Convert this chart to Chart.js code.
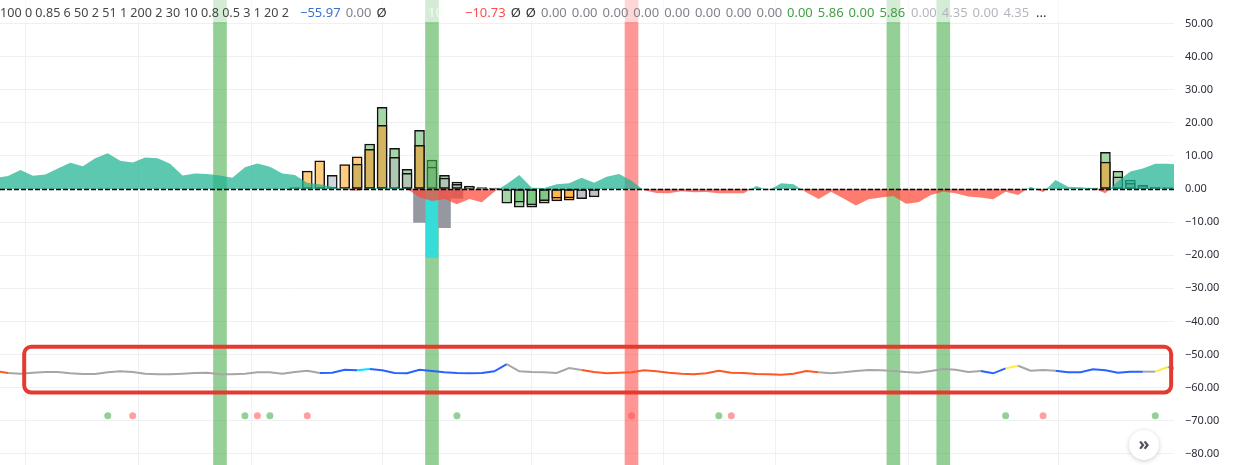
<!DOCTYPE html>
<html>
<head>
<meta charset="utf-8">
<script src="https://cdn.jsdelivr.net/npm/chart.js@4.4.1/dist/chart.umd.min.js"></script>
<style>
  html, body { margin:0; padding:0; background:#fff; }
  #wrap { position:relative; width:1235px; height:465px; overflow:hidden; }
  #btnScroll {
    position:absolute; left:1129px; top:430px; width:30px; height:30px; border-radius:50%;
    background:#fff; box-shadow:0 1px 5px rgba(0,0,0,0.2);
    font:bold 18px "Noto Sans", sans-serif; color:#50535e; text-align:center; line-height:27px;
  }
</style>
</head>
<body>
<div id="wrap">
  <canvas id="chart" width="1235" height="465"></canvas>
  <div id="btnScroll">»</div>
</div>
<script>
(function(){
  // --- x positions are bar indexes, 0 = first bar on the left
  var xMin = -0.64, xMax = 93.5;
  var gridMarks = [5.95, 15, 24, 36, 48, 57.05, 66.1, 78.25, 90.2];
  var yMin = -83.4, yMax = 57.1;
  var yTickFrom = -80, yTickTo = 50, yStep = 10;

  // oscillator area (starts one bar before the first bar)
  var areaStart = -1;
  var areaVals = [3.4,
    3.9, 5.7, 4.0, 4.4, 6.2, 7.9, 6.9, 9.3, 10.8, 8.5,
    8.0, 9.5, 9.3, 7.6, 4.1, 4.7, 4.5, 4.1, 3.4, 6.6,
    7.7, 6.7, 4.7, 4.2, 1.9, 1.4, 0.7, -0.2, -0.5, 0.2,
    0.2, 0.6, 0.0, -2.5, -3.6, -3.0, -4.6, -3.0, -4.0, -0.8,
    1.5, 4.2, 0.4, 0.3, 1.4, 1.7, 3.4, 1.9, 3.7, 4.5,
    2.5, -0.4, -1.2, -1.3, -0.7, -1.0, -0.9, -1.3, -1.3, -1.3,
    0.9, -0.4, 1.7, 1.4, -1.0, -3.0, -0.8, -2.9, -5.0, -3.1,
    -2.6, -2.1, -4.5, -4.0, -1.8, -0.8, -1.3, -2.3, -2.6, -3.1,
    -0.8, -1.8, 0.7, -1.0, 2.7, 0.7, 0.5, 0.2, -1.3, 2.3,
    5.3, 6.2, 7.6, 7.6, 7.3];

  // bordered histogram bars: outer box and inner box
  var outerIdx  = [23, 24, 25, 26, 27, 28, 29, 30, 31, 32, 33, 34, 35, 36, 37, 38, 39, 40, 41, 42, 43, 44, 45, 46, 47, 87, 88, 89, 90, 91, 92, 93];
  var outerVals = [0.4, 5.4, 8.5, 4.1, 7.4, 9.7, 13.6, 24.7, 12.3, 5.9, 17.7, 8.7, 4.1, 2.1, 0.9, 0.4, 0.3, -4.3, -5.5, -5.5, -4.3, -3.6, -3.4, -2.9, -2.4, 0.3, 11.1, 5.4, 2.7, 1.2, 0.5, 0.4];
  var outerTone = ['k','o','o','s','o','o','l','l','l','l','l','l','l','l','l','k','k','l','l','l','l','a','a','m','m','k','l','l','l','l','k','k'];

  var innerIdx  = [28, 29, 30, 31, 32, 33, 34, 35, 36, 37, 41, 42, 43, 44, 45, 88, 89, 90, 91];
  var innerVals = [7.5, 12.0, 19.2, 9.6, 4.7, 13.2, 6.6, 3.3, 1.4, 0.5, -4.0, -4.8, -3.5, -2.8, -2.7, 8.1, 3.7, 1.7, 0.7];
  var innerTone = ['d','d','d','q','q','d','q','q','q','q','g','g','g','a','a','d','q','q','q'];

  // plain down bars
  var dropIdx  = [33, 34, 35, 36];
  var dropVals = [-10.1, -20.7, -11.7, -2.8];
  var dropTone = ['p','c','p','p'];

  // background highlight columns
  var greenBands = [17, 34, 71, 75];
  var redBands   = [50];

  // lower line (starts one bar before the first bar)
  var lineStart = -1;
  var lineVals = [-55.0,
    -55.6, -55.8, -55.5, -55.3, -55.3, -55.7, -55.9, -55.9, -55.4, -55.1,
    -55.3, -55.8, -56.0, -56.0, -55.8, -55.6, -55.5, -56.0, -56.0, -55.8,
    -55.4, -55.4, -55.8, -55.3, -54.9, -55.6, -55.5, -54.6, -54.8, -54.4,
    -54.8, -55.6, -55.7, -54.6, -55.0, -55.4, -55.6, -55.7, -55.6, -55.1,
    -52.9, -55.1, -55.3, -55.4, -55.6, -54.1, -54.7, -55.3, -55.7, -55.5,
    -55.4, -54.8, -55.1, -55.5, -55.8, -56.0, -55.7, -54.9, -55.5, -55.6,
    -55.9, -56.0, -56.1, -55.8, -55.0, -55.4, -55.7, -55.4, -55.0, -54.7,
    -54.8, -55.0, -55.3, -55.5, -55.0, -54.4, -54.6, -55.3, -55.0, -55.7,
    -54.2, -53.4, -54.9, -54.7, -54.9, -55.4, -55.4, -54.5, -54.8, -55.5,
    -55.2, -55.2, -55.2, -53.8, -54.6];
  var lineTone = ['o',
    'g','g','g','g','g','g','g','g','g','g',
    'g','g','g','g','g','g','g','g','g','g',
    'g','g','g','g','g','b','b','b','c','b',
    'b','b','b','b','b','b','b','b','b','b',
    'g','g','g','g','g','g','o','o','o','o',
    'o','o','o','o','o','o','o','o','o','o',
    'o','o','o','o','o','g','g','g','g','g',
    'g','g','g','g','g','g','g','g','b','b',
    'y','g','g','g','b','b','b','b','b','b',
    'b','g','y','g','g'];

  // signal dots
  var buyDots  = [8, 19, 21, 36, 57, 80, 92];
  var sellDots = [10, 20, 24, 50, 58, 83];
  var dotLevel = -68.5;

  // highlight box round the lower line
  var focusBox = { from: 1.3, to: 93.27, top: -47.7, bottom: -61.5 };

  // legend values along the top
  var legendHead = '100 0 0.85 6 50 2 51 1 200 2 30 10 0.8 0.5 3 1 20 2';
  var legendGroups = [
    { x: 300, items: [['−55.97','#3b6fd6'], ['0.00','#80838d'], ['Ø','#333']] },
    { x: 428, items: [['10','#f3faf3']] },
    { x: 465, items: [['−10.73','#ff4d4d'], ['Ø','#333'], ['Ø','#333'],
                      ['0.00','#80838d'], ['0.00','#80838d'], ['0.00','#80838d'], ['0.00','#80838d'],
                      ['0.00','#80838d'], ['0.00','#80838d'], ['0.00','#80838d'], ['0.00','#80838d']] },
    { x: 787, items: [['0.00','#43a047'], ['5.86','#43a047'], ['0.00','#43a047'], ['5.86','#43a047']] },
    { x: 911, items: [['0.00','#b4b7bf'], ['4.35','#b4b7bf'], ['0.00','#b4b7bf'], ['4.35','#b4b7bf']] },
    { x: 1036, items: [['...','#333']] }
  ];

  var barTones = {
    k:'#111111', o:'#ffcc80', s:'#d1d4dc', l:'#a5d6a7', a:'#ffb74d', m:'#c0c2c9',
    d:'#d5b45e', q:'#b0c8b3', g:'#81c784', p:'#9598a1', c:'#36dcd7'
  };
  var lineTones = { g:'#a6a6a6', b:'#2962ff', c:'#00e5ff', o:'#ff5722', y:'#ffeb3b' };

  function pts(idx, vals){
    return idx.map(function(i, k){ return { x: i, y: vals[k] }; });
  }
  function seq(start, vals){
    return vals.map(function(v, k){ return { x: start + k, y: v }; });
  }
  function tones(keys){
    return keys.map(function(k){ return barTones[k]; });
  }
  function fmt(v){
    return (v < 0 ? '−' : '') + Math.abs(v).toFixed(2);
  }

  var overlay = {
    id: 'overlay',
    afterDatasetsDraw: function(chart){
      var ctx = chart.ctx, a = chart.chartArea, xs = chart.scales.x, ys = chart.scales.y;
      ctx.save();
      ctx.beginPath();
      ctx.rect(a.left, a.top, a.right - a.left, a.bottom - a.top);
      ctx.clip();

      // dashed zero line
      var y0 = Math.round(ys.getPixelForValue(0)) + 0.5;
      ctx.setLineDash([5, 2]);
      ctx.strokeStyle = '#000';
      ctx.lineWidth = 1.5;
      ctx.beginPath(); ctx.moveTo(a.left, y0); ctx.lineTo(a.right, y0); ctx.stroke();
      ctx.setLineDash([]);

      // red rounded box
      var bx0 = xs.getPixelForValue(focusBox.from), bx1 = xs.getPixelForValue(focusBox.to);
      var by0 = ys.getPixelForValue(focusBox.top), by1 = ys.getPixelForValue(focusBox.bottom);
      ctx.strokeStyle = '#e53a30';
      ctx.lineWidth = 4;
      ctx.beginPath();
      ctx.roundRect(bx0, by0, bx1 - bx0, by1 - by0, 7);
      ctx.stroke();

      // legend strip
      ctx.fillStyle = 'rgba(255,255,255,0.6)';
      ctx.fillRect(a.left, 0, a.right - a.left, 22);
      ctx.restore();

      ctx.save();
      ctx.font = '13px "Noto Sans", sans-serif';
      ctx.textBaseline = 'alphabetic';
      ctx.textAlign = 'left';
      ctx.fillStyle = '#474747';
      // squeeze the long settings string into the room it has
      var headW = ctx.measureText(legendHead).width, room = 289;
      ctx.save();
      if (headW > room) ctx.scale(room / headW, 1);
      ctx.fillText(legendHead, 0, 17);
      ctx.restore();
      legendGroups.forEach(function(g){
        var x = g.x;
        g.items.forEach(function(it){
          ctx.fillStyle = it[1];
          ctx.fillText(it[0], x, 17);
          x += ctx.measureText(it[0]).width + 5;
        });
      });
      ctx.restore();
    }
  };

  var allBands = greenBands.map(function(i){ return { x: i, y: [yMin - 10, yMax + 10] }; });
  var redBandPts = redBands.map(function(i){ return { x: i, y: [yMin - 10, yMax + 10] }; });

  new Chart(document.getElementById('chart'), {
    type: 'bar',
    data: {
      datasets: [
        { label: 'outer', data: pts(outerIdx, outerVals), backgroundColor: tones(outerTone),
          borderColor: '#111', borderWidth: 1.5, borderSkipped: false,
          barThickness: 10, grouped: false, order: 9 },
        { label: 'inner', data: pts(innerIdx, innerVals), backgroundColor: tones(innerTone),
          borderColor: '#111', borderWidth: 1.5, borderSkipped: false,
          barThickness: 10, grouped: false, order: 8 },
        { label: 'greenBands', data: allBands, backgroundColor: 'rgba(76,175,80,0.6)',
          borderWidth: 0, barThickness: 13, grouped: false, order: 7 },
        { label: 'redBands', data: redBandPts, backgroundColor: 'rgba(255,82,82,0.6)',
          borderWidth: 0, barThickness: 13, grouped: false, order: 7 },
        { label: 'drops', data: pts(dropIdx, dropVals), backgroundColor: tones(dropTone),
          borderWidth: 0, barThickness: 12, grouped: false, order: 6 },
        { type: 'line', label: 'area', data: seq(areaStart, areaVals),
          borderColor: 'rgba(0,0,0,0)', borderWidth: 1, pointRadius: 0, tension: 0,
          fill: { target: 'origin', above: 'rgba(32,180,147,0.73)', below: 'rgba(255,70,55,0.72)' },
          order: 5 },
        { type: 'line', label: 'line', data: seq(lineStart, lineVals),
          borderColor: lineTones.g, borderWidth: 2, pointRadius: 0, tension: 0, fill: false,
          segment: { borderColor: function(c){ return lineTones[lineTone[c.p0DataIndex]]; } },
          order: 4 },
        { type: 'scatter', label: 'buy', data: buyDots.map(function(i){ return { x: i, y: dotLevel }; }),
          backgroundColor: 'rgba(76,175,80,0.6)', borderWidth: 0, pointRadius: 3.5, order: 3 },
        { type: 'scatter', label: 'sell', data: sellDots.map(function(i){ return { x: i, y: dotLevel }; }),
          backgroundColor: 'rgba(255,82,82,0.55)', borderWidth: 0, pointRadius: 3.5, order: 3 }
      ]
    },
    options: {
      responsive: false,
      animation: false,
      devicePixelRatio: 1,
      layout: { padding: 0, autoPadding: false },
      plugins: { legend: { display: false }, tooltip: { enabled: false } },
      scales: {
        x: {
          type: 'linear', min: xMin, max: xMax, offset: false,
          ticks: { display: false },
          grid: { color: '#eef0f3', drawTicks: false },
          border: { display: false },
          afterBuildTicks: function(s){ s.ticks = gridMarks.map(function(v){ return { value: v }; }); },
          afterFit: function(s){ s.height = 0; s.paddingLeft = 0; s.paddingRight = 0; }
        },
        y: {
          position: 'right', min: yMin, max: yMax,
          ticks: {
            color: '#2a2e39', padding: 11,
            font: { family: '"Noto Sans", sans-serif', size: 11 },
            callback: function(v){ return fmt(v); }
          },
          grid: { color: '#eef0f3', drawTicks: false },
          border: { display: false },
          afterBuildTicks: function(s){
            var t = [];
            for (var v = yTickTo; v >= yTickFrom; v -= yStep) t.push({ value: v });
            s.ticks = t;
          },
          afterFit: function(s){ s.width = 61; s.paddingTop = 0; s.paddingBottom = 0; }
        }
      }
    },
    plugins: [overlay]
  });
})();
</script>
</body>
</html>
